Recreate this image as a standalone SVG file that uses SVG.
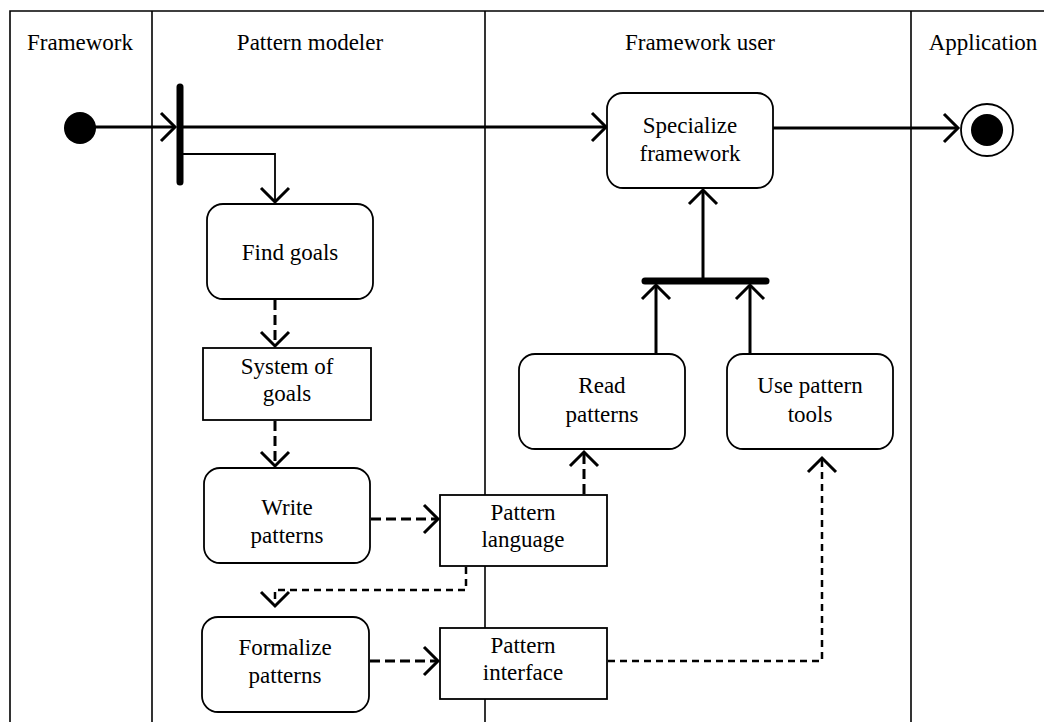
<svg xmlns="http://www.w3.org/2000/svg" width="1044" height="722" viewBox="0 0 1044 722">
  <style>
    .lane { stroke: #000; stroke-width: 1.6; fill: none; }
    .title, .label { font-family: "Liberation Serif", "Times New Roman", serif; font-size: 23px; fill: #000; text-anchor: middle; }
    .action { fill: #fff; stroke: #000; stroke-width: 1.8; }
    .object { fill: #fff; stroke: #000; stroke-width: 1.8; }
    .flow { stroke: #000; stroke-width: 3; fill: none; }
    .thin { stroke: #000; stroke-width: 1.8; fill: none; }
    .dash { stroke: #000; stroke-width: 3; fill: none; stroke-dasharray: 10 5; }
    .fine { stroke-width: 2.5; stroke-dasharray: 7 5; }
    .head { stroke: #000; stroke-width: 3; fill: none; stroke-linecap: butt; stroke-linejoin: miter; }
    .bar { stroke: #000; stroke-width: 7; stroke-linecap: round; }
  </style>

  <!-- swimlanes -->
  <g id="lanes">
    <path class="lane" d="M10 722 V11 H1044"/>
    <line class="lane" x1="152" y1="11" x2="152" y2="722"/>
    <line class="lane" x1="485" y1="11" x2="485" y2="722"/>
    <line class="lane" x1="911" y1="11" x2="911" y2="722"/>
    <text class="title" x="80" y="50">Framework</text>
    <text class="title" x="310" y="50">Pattern modeler</text>
    <text class="title" x="700" y="50">Framework user</text>
    <text class="title" x="983" y="50">Application</text>
  </g>

  <!-- connectors -->
  <g id="connectors">
    <!-- start to fork -->
    <line class="flow" x1="80" y1="127" x2="175" y2="127"/>
    <path class="head" d="M161 113 L175 127 L161 141"/>
    <!-- fork to Specialize framework -->
    <line class="flow" x1="180" y1="127" x2="606" y2="127"/>
    <path class="head" d="M592 113 L606 127 L592 141"/>
    <!-- fork branch to Find goals -->
    <path class="thin" d="M182 154 H275 V202"/>
    <path class="head" d="M261 188 L275 202 L289 188"/>
    <!-- Specialize framework to final -->
    <line class="flow" x1="773" y1="128" x2="958" y2="128"/>
    <path class="head" d="M944 114 L958 128 L944 142"/>
    <!-- join to Specialize framework -->
    <line class="flow" x1="703" y1="281" x2="703" y2="190"/>
    <path class="head" d="M689 204 L703 190 L717 204"/>
    <!-- Read patterns to join -->
    <line class="flow" x1="656" y1="354" x2="656" y2="285"/>
    <path class="head" d="M642 299 L656 285 L670 299"/>
    <!-- Use pattern tools to join -->
    <line class="flow" x1="750" y1="354" x2="750" y2="285"/>
    <path class="head" d="M736 299 L750 285 L764 299"/>
    <!-- Find goals to System of goals -->
    <line class="dash" x1="275" y1="300" x2="275" y2="346"/>
    <path class="head" d="M261 332 L275 346 L289 332"/>
    <!-- System of goals to Write patterns -->
    <line class="dash" x1="275" y1="421" x2="275" y2="466"/>
    <path class="head" d="M261 452 L275 466 L289 452"/>
    <!-- Write patterns to Pattern language -->
    <line class="dash" x1="371" y1="519" x2="438" y2="519"/>
    <path class="head" d="M424 505 L438 519 L424 533"/>
    <!-- Pattern language to Formalize patterns -->
    <path class="dash fine" d="M466 567 V590 H275 V606"/>
    <path class="head" d="M261 592 L275 606 L289 592"/>
    <!-- Formalize patterns to Pattern interface -->
    <line class="dash" x1="370" y1="661" x2="438" y2="661"/>
    <path class="head" d="M424 647 L438 661 L424 675"/>
    <!-- Pattern language to Read patterns -->
    <line class="dash" x1="584" y1="494" x2="584" y2="452"/>
    <path class="head" d="M570 466 L584 452 L598 466"/>
    <!-- Pattern interface to Use pattern tools -->
    <path class="dash fine" d="M608 661 H822 V458"/>
    <path class="head" d="M808 472 L822 458 L836 472"/>
  </g>

  <!-- control nodes -->
  <g id="start">
    <circle cx="80" cy="128" r="16" fill="#000"/>
  </g>
  <g id="fork">
    <line class="bar" x1="180" y1="87" x2="180" y2="182"/>
  </g>
  <g id="join">
    <line class="bar" x1="645" y1="281" x2="766" y2="281"/>
  </g>
  <g id="final">
    <circle cx="987" cy="130" r="26" fill="#fff" stroke="#000" stroke-width="1.8"/>
    <circle cx="987" cy="130" r="16" fill="#000"/>
  </g>

  <!-- actions -->
  <g id="specialize-framework">
    <rect class="action" x="607" y="93" width="166" height="95" rx="16"/>
    <text class="label" x="690" y="133">Specialize</text>
    <text class="label" x="690" y="161">framework</text>
  </g>
  <g id="find-goals">
    <rect class="action" x="207" y="204" width="166" height="95" rx="16"/>
    <text class="label" x="290" y="260">Find goals</text>
  </g>
  <g id="read-patterns">
    <rect class="action" x="519" y="354" width="166" height="95" rx="16"/>
    <text class="label" x="602" y="393">Read</text>
    <text class="label" x="602" y="422">patterns</text>
  </g>
  <g id="use-pattern-tools">
    <rect class="action" x="727" y="354" width="166" height="95" rx="16"/>
    <text class="label" x="810" y="393">Use pattern</text>
    <text class="label" x="810" y="422">tools</text>
  </g>
  <g id="write-patterns">
    <rect class="action" x="204" y="468" width="166" height="95" rx="16"/>
    <text class="label" x="287" y="515">Write</text>
    <text class="label" x="287" y="543">patterns</text>
  </g>
  <g id="formalize-patterns">
    <rect class="action" x="202" y="617" width="167" height="95" rx="16"/>
    <text class="label" x="285" y="655">Formalize</text>
    <text class="label" x="285" y="683">patterns</text>
  </g>

  <!-- object nodes -->
  <g id="system-of-goals">
    <rect class="object" x="203" y="348" width="168" height="72"/>
    <text class="label" x="287" y="374">System of</text>
    <text class="label" x="287" y="401">goals</text>
  </g>
  <g id="pattern-language">
    <rect class="object" x="440" y="495" width="167" height="71"/>
    <text class="label" x="523" y="520">Pattern</text>
    <text class="label" x="523" y="547">language</text>
  </g>
  <g id="pattern-interface">
    <rect class="object" x="440" y="628" width="167" height="71"/>
    <text class="label" x="523" y="653">Pattern</text>
    <text class="label" x="523" y="680">interface</text>
  </g>
</svg>
